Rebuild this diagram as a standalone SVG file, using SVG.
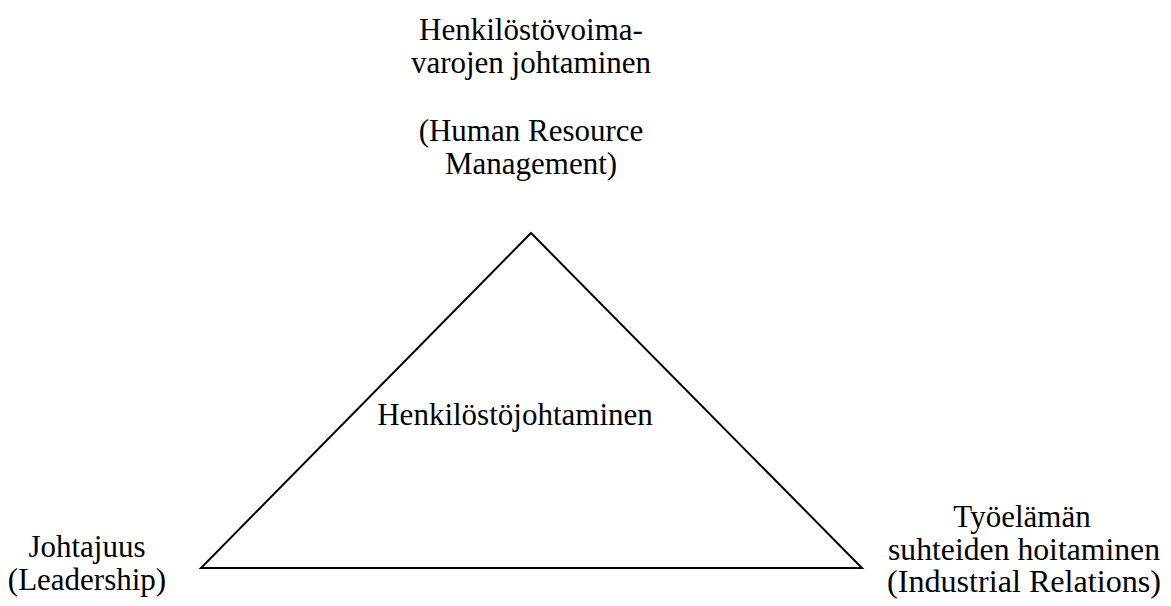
<svg xmlns="http://www.w3.org/2000/svg" width="1171" height="606" viewBox="0 0 1171 606">
  <style>
    .lbl { font-family: "Liberation Serif", "DejaVu Serif", serif; font-size: 31px; fill: #000; text-anchor: middle; }
    .edge { fill: none; stroke: #000; stroke-width: 2; stroke-linejoin: miter; }
  </style>
  <rect width="1171" height="606" fill="#fff"/>
  <g id="connectors">
    <polygon class="edge" points="531,233 862,568 201,568"/>
  </g>
  <g id="node-hrm">
    <text class="lbl" x="531" y="40">Henkilöstövoima-</text>
    <text class="lbl" x="531" y="73">varojen johtaminen</text>
    <text class="lbl" x="531" y="141">(Human Resource</text>
    <text class="lbl" x="531" y="174">Management)</text>
  </g>
  <g id="node-center">
    <text class="lbl" x="515" y="425">Henkilöstöjohtaminen</text>
  </g>
  <g id="node-leadership">
    <text class="lbl" x="87" y="557">Johtajuus</text>
    <text class="lbl" x="87" y="590">(Leadership)</text>
  </g>
  <g id="node-industrial">
    <text class="lbl" x="1022" y="527">Työelämän</text>
    <text class="lbl" x="1024" y="560" textLength="272" lengthAdjust="spacingAndGlyphs">suhteiden hoitaminen</text>
    <text class="lbl" x="1024" y="592" textLength="274" lengthAdjust="spacingAndGlyphs">(Industrial Relations)</text>
  </g>
</svg>
